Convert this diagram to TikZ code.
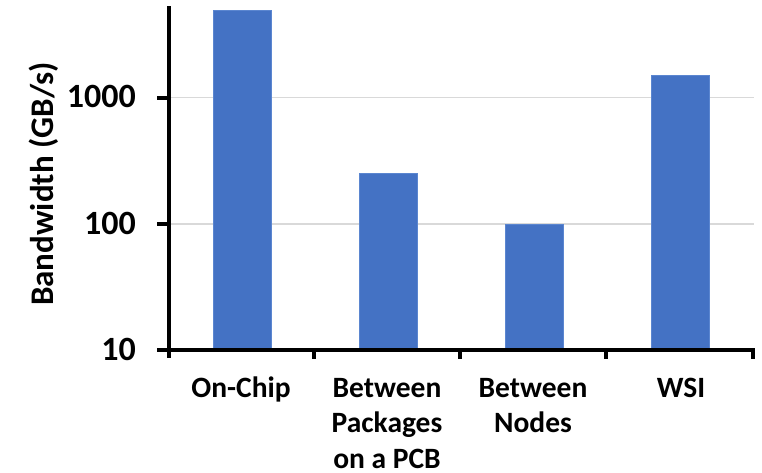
\documentclass[tikz,border=0pt]{standalone}
\usepackage{fontspec}
\setmainfont{Carlito}
\definecolor{barblue}{HTML}{4472C4}
\definecolor{baredge}{HTML}{5B86D0}
\definecolor{gridgray}{HTML}{D9D9D9}
\begin{document}
\begin{tikzpicture}[x=1pt,y=-1pt,
  ticklbl/.style={font=\fontsize{34}{40}\selectfont\bfseries, inner sep=0pt, anchor=east},
  catlbl/.style={font=\fontsize{29.5}{35.5}\selectfont\bfseries, inner sep=0pt, anchor=base},
  titlelbl/.style={font=\fontsize{33}{38}\selectfont\bfseries, inner sep=0pt, anchor=base, rotate=90},
  bar/.style={fill=barblue, draw=baredge, line width=1pt},
  axis/.style={line width=4pt, line cap=rect},
  tick/.style={line width=4pt},
  grid/.style={draw=gridgray, line width=1.5pt}]
\useasboundingbox (0,0) rectangle (762,472);
% gridlines
\draw[grid] (169,97.5) -- (754,97.5);
\draw[grid] (169,224) -- (754,224);
% bars
\draw[bar] (213,10) rectangle (271,350);
\draw[bar] (359,173) rectangle (417,350);
\draw[bar] (505,224) rectangle (563,350);
\draw[bar] (651,75) rectangle (709,350);
% axes
\draw[axis] (169,8) -- (169,356);
\draw[axis] (169,350) -- (753,350);
\foreach \x in {314,460,606,753} \draw[tick] (\x,350) -- (\x,359);
\foreach \y in {97.5,224,350} \draw[tick] (157,\y) -- (169,\y);
% tick labels
\node[ticklbl] (t1000) at (136,96.5) {1000};
\node[ticklbl] (t100) at (136,223) {100};
\node[ticklbl] (t10) at (136,349) {10};
% axis title
\node[titlelbl] (ytitle) at (53,184) {Bandwidth (GB/s)};
% category labels
\node[catlbl] (c1) at (241,397) {On-Chip};
\node[catlbl] (c2) at (387,397) {\begin{tabular}[t]{@{}c@{}}Between\\Packages\\on a PCB\end{tabular}};
\node[catlbl] (c3) at (533,397) {\begin{tabular}[t]{@{}c@{}}Between\\Nodes\end{tabular}};
\node[catlbl] (c4) at (681,397) {WSI};
\end{tikzpicture}
\end{document}
